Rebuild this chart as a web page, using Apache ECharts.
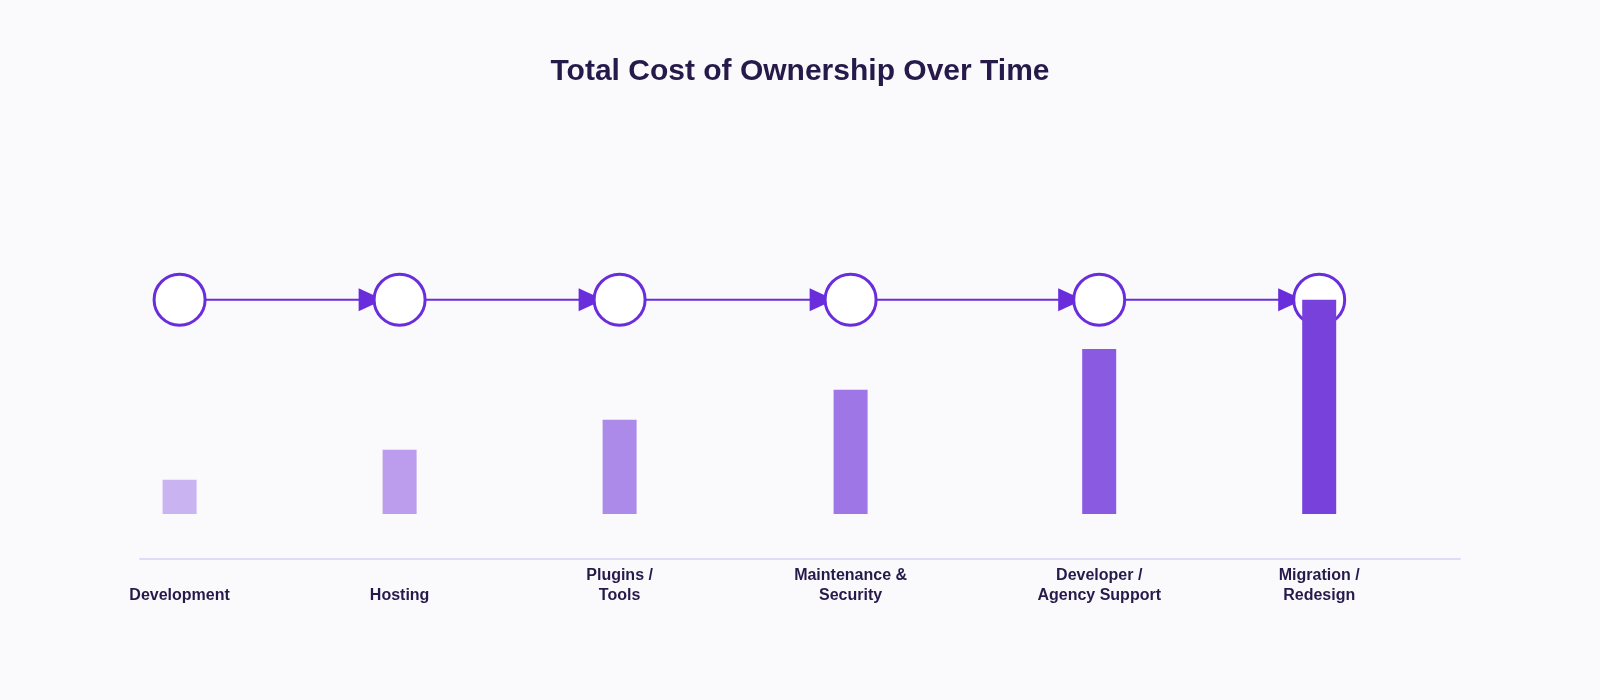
<!DOCTYPE html>
<html lang="en">
<head>
    <meta charset="UTF-8">
    <title>Total Cost of Ownership Over Time</title>
    <script src="https://cdn.jsdelivr.net/npm/echarts@6/dist/echarts.min.js"></script>
    <style>
        html, body { margin: 0; padding: 0; background: #fafafd; }
        #chart { width: 1600px; height: 700px; }
    </style>
</head>
<body>
    <div id="chart"></div>
    <script>
        // categories along the timeline
        var categories = ['Development', 'Hosting', 'Plugins /\nTools', 'Maintenance &\nSecurity', 'Developer /\nAgency Support', 'Migration /\nRedesign']
        // where each stage sits on the timeline (axis runs 0..6)
        var positions = [0.18, 1.18, 2.18, 3.23, 4.36, 5.36]
        // relative cost of each stage
        var costs = [16, 30, 44, 58, 77, 100]
        var barColors = ['#c9b4f1', '#bc9ded', '#ac8ae9', '#9e76e5', '#8a5ae0', '#7841dc']

        var accent = '#6a2ddc'
        var textColor = '#261a4a'
        var topLevel = Math.max.apply(null, costs)
        var yMin = -21

        var barData = positions.map(function (p, i) {
            return { value: [p, costs[i]], itemStyle: { color: barColors[i] } }
        })
        var nodeData = positions.map(function (p) { return [p, topLevel] })
        var labelData = positions.map(function (p, i) { return { name: categories[i], value: [p, yMin] } })
        var arrowData = positions.slice(0, -1).map(function (p, i) { return [p, positions[i + 1], topLevel] })

        var myChart = echarts.init(document.getElementById('chart'))
        var option = {
            backgroundColor: '#fafafd',
            animation: false,
            title: {
                text: 'Total Cost of Ownership Over Time',
                left: 'center',
                top: 52,
                textStyle: {
                    fontFamily: 'Liberation Sans, Arial, sans-serif',
                    fontSize: 30,
                    fontWeight: 'bold',
                    color: textColor
                }
            },
            grid: { left: 140, right: 140, top: 214, bottom: 141 },
            xAxis: {
                type: 'value',
                min: 0,
                max: 6,
                axisLine: { show: true, onZero: false, lineStyle: { color: '#e3daf9', width: 2 } },
                axisTick: { show: false },
                axisLabel: { show: false },
                splitLine: { show: false }
            },
            yAxis: {
                type: 'value',
                min: yMin,
                max: 140,
                show: false,
                splitLine: { show: false }
            },
            series: [{
                // arrows between stages
                type: 'custom',
                z: 1,
                silent: true,
                encode: { x: [0, 1], y: 2 },
                data: arrowData,
                renderItem: function (params, api) {
                    var a = api.coord([api.value(0), api.value(2)])
                    var b = api.coord([api.value(1), api.value(2)])
                    var tip = b[0] - 16
                    var base = tip - 25
                    return {
                        type: 'group',
                        children: [{
                            type: 'line',
                            shape: { x1: a[0], y1: a[1], x2: base + 2, y2: b[1] },
                            style: { stroke: accent, lineWidth: 2 }
                        }, {
                            type: 'polygon',
                            shape: { points: [[base, b[1] - 11.5], [tip, b[1]], [base, b[1] + 11.5]] },
                            style: { fill: accent }
                        }]
                    }
                }
            }, {
                // stage nodes
                type: 'scatter',
                z: 2,
                symbol: 'circle',
                symbolSize: 51,
                data: nodeData,
                itemStyle: { color: '#ffffff', borderColor: accent, borderWidth: 3, opacity: 1 }
            }, {
                type: 'bar',
                z: 3,
                barWidth: 34,
                data: barData
            }, {
                // category labels under the axis line
                type: 'scatter',
                z: 4,
                symbolSize: 1,
                silent: true,
                itemStyle: { color: 'rgba(0,0,0,0)' },
                data: labelData,
                label: {
                    show: true,
                    position: 'inside',
                    offset: [0, 47],
                    align: 'center',
                    verticalAlign: 'bottom',
                    formatter: function (p) { return p.name },
                    fontFamily: 'Liberation Sans, Arial, sans-serif',
                    fontSize: 16,
                    fontWeight: 'bold',
                    lineHeight: 20,
                    color: textColor,
                    opacity: 1,
                    textBorderWidth: 0
                }
            }]
        }
        myChart.setOption(option)
    </script>
</body>
</html>
